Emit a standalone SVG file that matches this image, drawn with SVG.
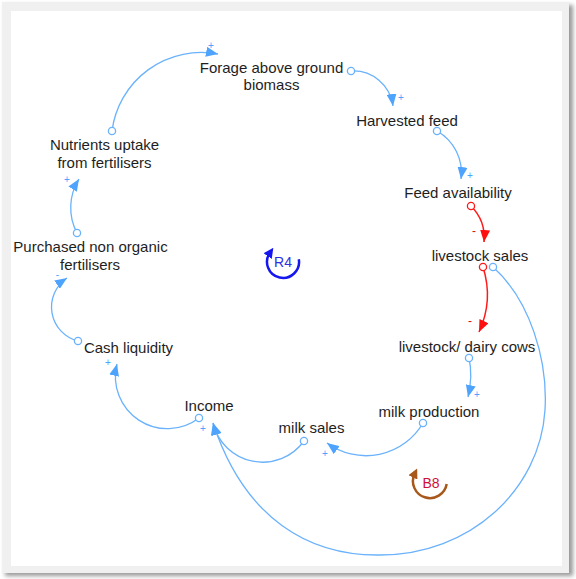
<svg xmlns="http://www.w3.org/2000/svg" width="576" height="579" viewBox="0 0 576 579">
  <defs>
    <style>
      .node text { font-family: "Liberation Sans", Arial, sans-serif; font-size: 15px; fill: #1e1e1e; text-anchor: middle; }
      .link { fill: none; stroke: #6ab2fc; stroke-width: 1.3; marker-start: url(#dotB); marker-end: url(#headB); }
      .link.neg { stroke: #ff1a1a; stroke-width: 1.5; marker-start: url(#dotR); marker-end: url(#headR); }
      .sign { font-family: "Liberation Sans", Arial, sans-serif; font-size: 10px; text-anchor: middle; fill: #4ea3fc; }
      .sign.neg { fill: #e01010; font-size: 12px; }
      .loop text { font-family: "Liberation Sans", Arial, sans-serif; font-size: 14px; text-anchor: middle; }
    </style>
    <marker id="headB" viewBox="0 0 12 10" refX="12" refY="5" markerWidth="12" markerHeight="10" markerUnits="userSpaceOnUse" orient="auto">
      <path d="M0,0 L12,5 L0,10 Z" fill="#4ea3fc"/>
    </marker>
    <marker id="headR" viewBox="0 0 12 10" refX="12" refY="5" markerWidth="12" markerHeight="10" markerUnits="userSpaceOnUse" orient="auto">
      <path d="M0,0 L12,5 L0,10 Z" fill="#ff1010"/>
    </marker>
    <marker id="dotB" viewBox="0 0 10 10" refX="5" refY="5" markerWidth="10" markerHeight="10" markerUnits="userSpaceOnUse">
      <circle cx="5" cy="5" r="3.6" fill="#fff" stroke="#6ab2fc" stroke-width="1.3"/>
    </marker>
    <marker id="dotR" viewBox="0 0 10 10" refX="5" refY="5" markerWidth="10" markerHeight="10" markerUnits="userSpaceOnUse">
      <circle cx="5" cy="5" r="3.6" fill="#fff" stroke="#ff1a1a" stroke-width="1.3"/>
    </marker>
    <marker id="headR4" viewBox="0 0 10 10" refX="4" refY="5" markerWidth="10" markerHeight="10" markerUnits="userSpaceOnUse" orient="auto">
      <path d="M0,0 L10,5 L0,10 Z" fill="#1616f0"/>
    </marker>
    <marker id="headB8" viewBox="0 0 10 10" refX="4" refY="5" markerWidth="10" markerHeight="10" markerUnits="userSpaceOnUse" orient="auto">
      <path d="M0,0 L10,5 L0,10 Z" fill="#a8581a"/>
    </marker>
    <filter id="shade" x="-5%" y="-5%" width="110%" height="110%">
      <feGaussianBlur stdDeviation="2"/>
    </filter>
  </defs>

  <!-- frame -->
  <rect x="0" y="0" width="576" height="579" fill="#ffffff"/>
  <rect x="5" y="5" width="568" height="571" fill="#9a9a9a" filter="url(#shade)"/>
  <rect x="2" y="2" width="567" height="571" fill="#f0f0f0"/>
  <rect x="11" y="11" width="551" height="555" fill="#ffffff"/>

  <!-- connectors -->
  <g id="connectors">
    <path class="link" d="M112,131 A90,90 0 0,1 218,54"/>
    <path class="link" d="M351,71 A40,40 0 0,1 393,106"/>
    <path class="link" d="M437,131 A48,48 0 0,1 461,179"/>
    <path class="link neg" d="M471,206 A45,45 0 0,1 484,242"/>
    <path class="link neg" d="M483,267 A90,90 0 0,1 479,332"/>
    <path class="link" d="M493,267 C530,300 548,360 545,410 C540,490 470,555 380,555 C310,556 245,520 213,423"/>
    <path class="link" d="M469,358 Q473,376 468,397"/>
    <path class="link" d="M423,423 A66,66 0 0,1 327,443"/>
    <path class="link" d="M304,441 A51,51 0 0,1 213,423"/>
    <path class="link" d="M199,418 A52,52 0 0,1 117,364"/>
    <path class="link" d="M78,341 A35,35 0 0,1 67,278"/>
    <path class="link" d="M77,233 A54,54 0 0,1 79,179"/>

    <text class="sign" x="211" y="49">+</text>
    <text class="sign" x="401" y="101">+</text>
    <text class="sign" x="470" y="179">+</text>
    <text class="sign neg" x="474" y="235">-</text>
    <text class="sign neg" x="470" y="325">-</text>
    <text class="sign" x="477" y="398">+</text>
    <text class="sign" x="325" y="457">+</text>
    <text class="sign" x="203" y="432">+</text>
    <text class="sign" x="108" y="366">+</text>
    <text class="sign" x="57.5" y="278">-</text>
    <text class="sign" x="67" y="183">+</text>
  </g>

  <!-- variables -->
  <g id="forage" class="node"><text x="271.5" y="73">Forage above ground</text><text x="271.5" y="90">biomass</text></g>
  <g id="harvested-feed" class="node"><text x="407" y="126">Harvested feed</text></g>
  <g id="feed-availability" class="node"><text x="458" y="198">Feed availability</text></g>
  <g id="livestock-sales" class="node"><text x="480" y="261">livestock sales</text></g>
  <g id="dairy-cows" class="node"><text x="467" y="352">livestock/ dairy cows</text></g>
  <g id="milk-production" class="node"><text x="429" y="417">milk production</text></g>
  <g id="milk-sales" class="node"><text x="311.5" y="433">milk sales</text></g>
  <g id="income" class="node"><text x="209" y="411">Income</text></g>
  <g id="cash-liquidity" class="node"><text x="128.5" y="353">Cash liquidity</text></g>
  <g id="fertilisers" class="node"><text x="90.5" y="252">Purchased non organic</text><text x="90" y="269.5">fertilisers</text></g>
  <g id="nutrients" class="node"><text x="104.5" y="150">Nutrients uptake</text><text x="104.5" y="168">from fertilisers</text></g>

  <!-- loop markers -->
  <g id="loop-R4" class="loop">
    <path d="M298.8,259.2 A16,16 0 1,1 269.9,252.8" fill="none" stroke="#1616f0" stroke-width="2.5" marker-end="url(#headR4)"/>
    <text x="283" y="267" fill="#3030e0">R4</text>
  </g>
  <g id="loop-B8" class="loop">
    <path d="M446.7,484 A17,17 0 1,1 414.6,473.8" fill="none" stroke="#a8581a" stroke-width="2.5" marker-end="url(#headB8)"/>
    <text x="431" y="488" fill="#d0103a">B8</text>
  </g>
</svg>
